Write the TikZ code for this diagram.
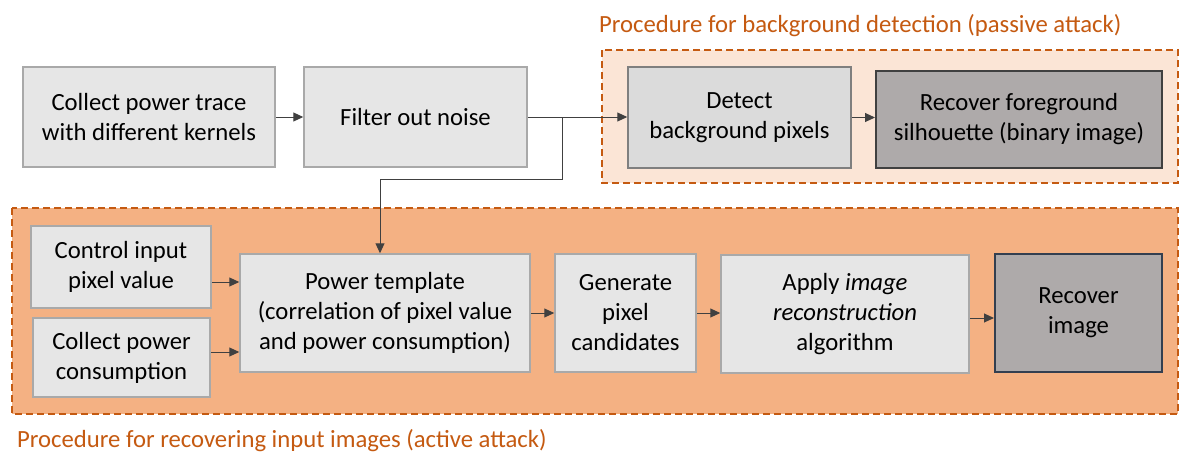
\documentclass[tikz,border=0pt]{standalone}
\usepackage{fontspec}
\setmainfont{Carlito}
\usetikzlibrary{arrows.meta}
\definecolor{boxfill}{HTML}{E6E6E6}
\definecolor{boxdraw}{HTML}{A9A9A9}
\definecolor{detfill}{HTML}{DBDBDB}
\definecolor{detdraw}{HTML}{7F7F7F}
\definecolor{recfill}{HTML}{AEAAAA}
\definecolor{recdraw}{HTML}{404040}
\definecolor{recdrawb}{HTML}{333F50}
\definecolor{framecol}{HTML}{C55A11}
\definecolor{passfill}{HTML}{FBE5D6}
\definecolor{actfill}{HTML}{F4B183}
\definecolor{arrcol}{HTML}{404040}
\tikzset{
  stepbox/.style={draw=boxdraw, fill=boxfill, line width=1.5pt, align=center,
    inner sep=0pt, font=\fontsize{24.7}{30}\selectfont},
  detbox/.style={stepbox, draw=detdraw, fill=detfill},
  recbox/.style={stepbox, draw=recdraw, fill=recfill, line width=2pt},
  frame/.style={draw=framecol, dash pattern=on 7pt off 4pt, line width=2pt},
  ttl/.style={text=framecol, inner sep=0pt, anchor=base west, font=\fontsize{24.7}{30}\selectfont},
  arr/.style={draw=arrcol, line width=1pt, -{Triangle[length=10pt,width=9pt]}},
  ln/.style={draw=arrcol, line width=1pt},
}
\begin{document}
\begin{tikzpicture}[x=1pt,y=-1pt]
\useasboundingbox[fill=white] (0,0) rectangle (1179,469);
% frames
\path[frame, fill=passfill] (602,50) rectangle (1178,183);
\path[frame, fill=actfill] (12,208) rectangle (1178,414);
\node[ttl] (tp) at (599,32) {Procedure for background detection (passive attack)};
\node[ttl] (ta) at (17,447) {Procedure for recovering input images (active attack)};
% top row
\node[stepbox, minimum width=252pt, minimum height=100pt] (c1) at (149,117) {Collect power trace\\with different kernels};
\node[stepbox, minimum width=223pt, minimum height=100pt] (filt) at (415.5,117) {Filter out noise};
\node[detbox, minimum width=223pt, minimum height=101pt] (det) at (739.5,117.5) {Detect\\background pixels};
\node[recbox, minimum width=286pt, minimum height=97pt] (recfg) at (1019,119.5) {Recover foreground\\silhouette (binary image)};
% bottom row
\node[stepbox, minimum width=180pt, minimum height=82pt] (ctrl) at (121,267) {Control input\\pixel value};
\node[stepbox, minimum width=177pt, minimum height=79pt] (cpc) at (121.5,357.5) {Collect power\\consumption};
\node[stepbox, minimum width=290pt, minimum height=118pt] (pt) at (385,313) {Power template\\(correlation of pixel value\\and power consumption)};
\node[stepbox, minimum width=141pt, minimum height=118pt] (gen) at (625.5,313) {Generate\\pixel\\candidates};
\node[stepbox, minimum width=248pt, minimum height=118pt] (app) at (845,314) {Apply \textit{image}\\\textit{reconstruction}\\algorithm};
\node[recbox, draw=recdrawb, minimum width=167pt, minimum height=118pt] (recimg) at (1078.5,313) {Recover\\image};
% connectors
\draw[arr] (c1.east) -- (filt.west);
\draw[arr] (filt.east) -- (det.west |- filt.east);
\coordinate (br) at (562,117);
\coordinate (bend) at (380,179);
\draw[ln] (br) |- (bend);
\draw[arr] (bend) -- (bend |- pt.north);
\draw[arr] (det.east) -- (recfg.west |- det.east);
\draw[arr] ([yshift=-15pt]ctrl.east) -- ([yshift=-15pt]ctrl.east -| pt.west);
\draw[arr] ([yshift=5.5pt]cpc.east) -- ([yshift=5.5pt]cpc.east -| pt.west);
\draw[arr] (pt.east) -- (gen.west);
\draw[arr] (gen.east) -- (gen.east -| app.west);
\draw[arr] ([yshift=-4pt]app.east) -- ([yshift=-4pt]app.east -| recimg.west);
\end{tikzpicture}
\end{document}
